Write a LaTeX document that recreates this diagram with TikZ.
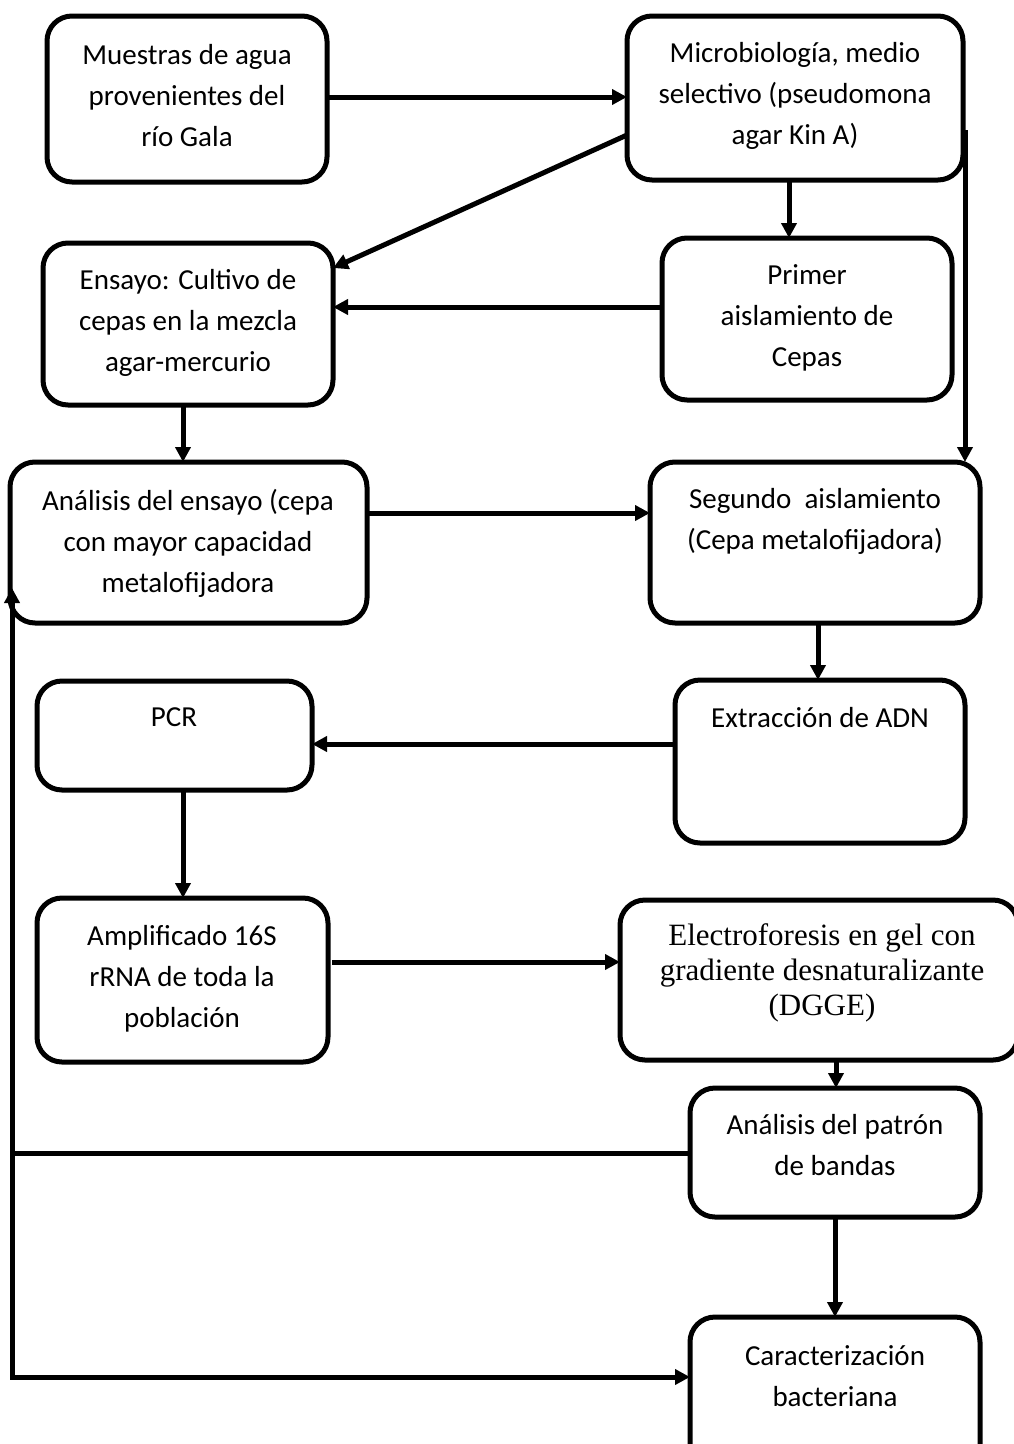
\documentclass[tikz,border=0pt]{standalone}
\usepackage{fontspec}
\setmainfont{Carlito}
\newfontfamily\timesf{Liberation Serif}
\usetikzlibrary{arrows.meta}
\begin{document}
\begin{tikzpicture}[x=1pt,y=-1pt,
  box/.style={draw, line width=5pt, rounded corners=25pt, inner sep=0pt, outer sep=0pt},
  txt/.style={align=center, inner sep=0pt, font=\fontsize{29}{41}\selectfont},
  ttxt/.style={align=center, inner sep=0pt, font=\timesf\fontsize{31}{35}\selectfont},
  conn/.style={line width=5pt},
  arr/.style={conn, -{Triangle[length=15pt,width=15pt]}},
  darr/.style={conn, miter limit=10, {Triangle[length=15pt,width=15pt]}-{Triangle[length=15pt,width=15pt]}}]
\useasboundingbox (0,0) rectangle (1014,1444);
% boxes
\node[box, minimum width=280pt, minimum height=166pt] (A) at (187,99) {};
\node[box, minimum width=336pt, minimum height=164pt] (B) at (795,98) {};
\node[box, minimum width=290pt, minimum height=162pt] (C) at (807,319) {};
\node[box, minimum width=290pt, minimum height=162pt] (D) at (188,324) {};
\node[box, minimum width=357pt, minimum height=161pt] (E) at (188.5,542.5) {};
\node[box, minimum width=330pt, minimum height=161pt] (F) at (815,542.5) {};
\node[box, minimum width=275pt, minimum height=109pt] (G) at (174.5,735.5) {};
\node[box, minimum width=290pt, minimum height=163pt] (H) at (820,761.5) {};
\node[box, minimum width=291pt, minimum height=164pt] (I) at (182.5,980) {};
\node[box, minimum width=398pt, minimum height=160pt] (J) at (819,980) {};
\node[box, minimum width=290pt, minimum height=129pt] (K) at (835,1152.5) {};
\node[box, minimum width=290pt, minimum height=153pt] (L) at (835,1393.5) {};
% texts
\node[txt] (tA) at (187,96) {Muestras de agua\\provenientes del\\río Gala};
\node[txt] (tB) at (795,96) {Microbiología, medio\\selectivo (pseudomona\\agar Kin A)};
\node[txt] (tC) at (807,318) {Primer\\aislamiento de\\Cepas};
\node[txt] (tD) at (188,323) {Ensayo: Cultivo de\\cepas en la mezcla\\agar-mercurio};
\node[txt] (tE) at (188,543) {Análisis del ensayo (cepa\\con mayor capacidad\\metalofijadora};
\node[txt] (tF) at (815,521) {Segundo\ \ aislamiento\\(Cepa metalofijadora)};
\node[txt] (tG) at (174,717) {PCR};
\node[txt] (tH) at (820,718) {Extracción de ADN};
\node[txt] (tI) at (182,979) {Amplificado 16S\\rRNA de toda la\\población};
\node[ttxt] (tJ) at (822,973) {Electroforesis en gel con\\gradiente desnaturalizante\\(DGGE)};
\node[txt] (tK) at (835,1145) {Análisis del patrón\\de bandas};
\node[txt] (tL) at (835,1376) {Caracterización\\bacteriana};
% connectors
\coordinate (cBL) at (12,1377);
\draw[arr] (A.east |- 0,97) -- (B.west |- 0,97);
\draw[arr] (B.west |- 0,135) -- (D.east |- 0,268);
\draw[arr] (B.south -| 789,0) -- (C.north -| 789,0);
\draw[arr] ([xshift=2pt]B.east |- 0,130) -- ([xshift=2pt]F.north -| B.east);
\draw[arr] (C.west |- 0,307) -- (D.east |- 0,307);
\draw[arr] (D.south -| 183,0) -- (E.north -| 183,0);
\draw[arr] (E.east |- 0,513) -- (F.west |- 0,513);
\draw[arr] (F.south -| 818,0) -- (H.north -| 818,0);
\draw[arr] (H.west |- 0,744) -- (G.east |- 0,744);
\draw[arr] (G.south -| 183,0) -- (I.north -| 183,0);
\draw[arr] ([xshift=4pt]I.east |- 0,962) -- (J.west |- 0,962);
\draw[arr] (J.south -| 836,0) -- (K.north -| 836,0);
\draw[arr] (K.south) -- (L.north);
\draw[conn] (K.west |- 0,1153) -- (cBL |- 0,1153);
\draw[darr] (cBL |- 0,588) -- (cBL) -- (L.west |- cBL);
\end{tikzpicture}
\end{document}
